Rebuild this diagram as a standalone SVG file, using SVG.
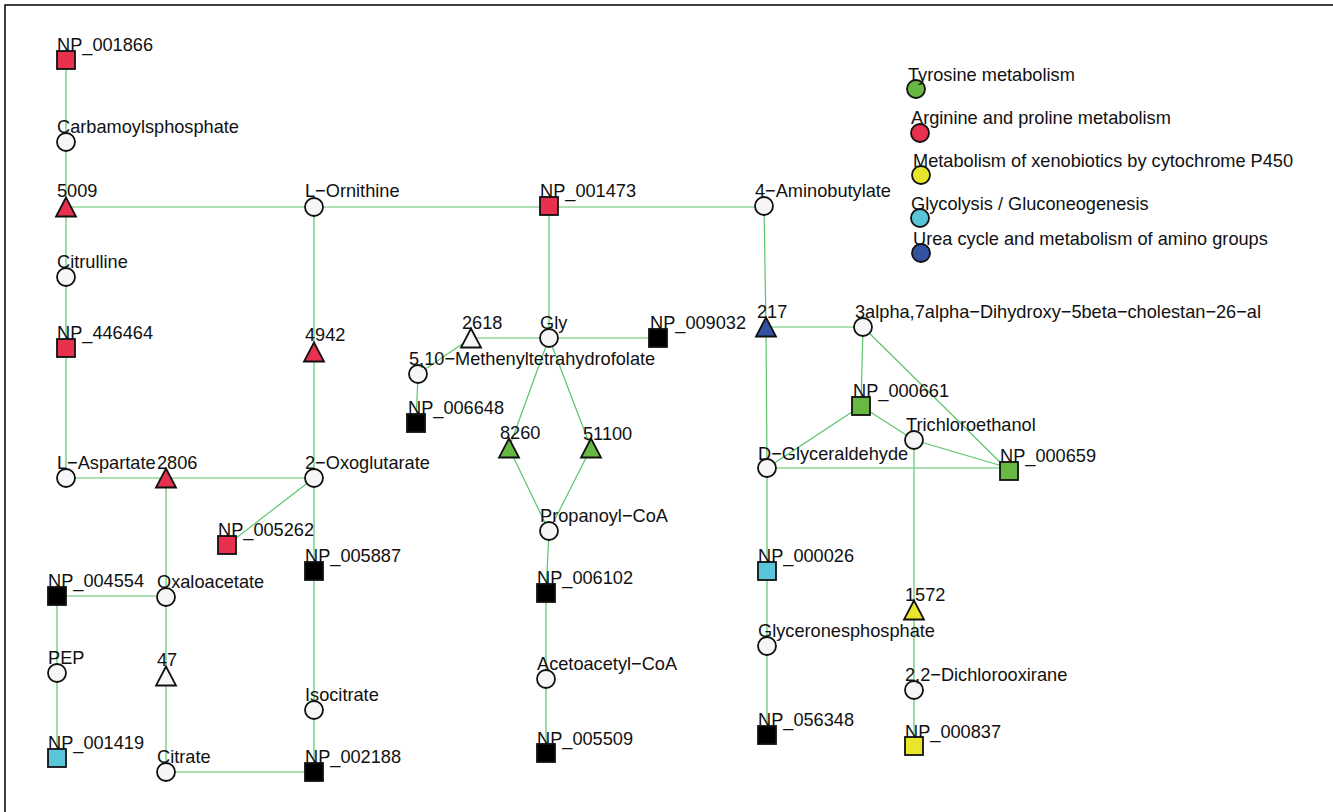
<svg xmlns="http://www.w3.org/2000/svg" xmlns:xlink="http://www.w3.org/1999/xlink" width="1333" height="812" viewBox="0 0 1333 812">
<style>
text{font-family:"Liberation Sans",Arial,sans-serif;font-size:18.2px;fill:#111}
.e{stroke:#5cc46a;stroke-width:1.2;fill:none}
.n{stroke:#111;stroke-width:1.8}
.r{fill:#e8304f}.g{fill:#68b844}.y{fill:#e8e52a}.c{fill:#58c6d8}.b{fill:#3452a0}.k{fill:#000}.w{fill:#f6f6f6}
</style>
<defs>
<rect id="sq" x="-9" y="-9" width="18" height="18"/>
<circle id="ci" r="9"/>
<polygon id="tr" points="-10,9.5 10,9.5 0,-9.5"/>
</defs>
<rect x="5" y="5" width="1400" height="900" fill="#fff" stroke="#000" stroke-width="1.5"/>
<g id="connectors">
<path class="e" d="M66 60V478"/>
<path class="e" d="M66 207H764"/>
<path class="e" d="M314 207V478"/>
<path class="e" d="M66 478H314"/>
<path class="e" d="M166 478V772H314"/>
<path class="e" d="M314 478L227 545"/>
<path class="e" d="M314 478V772"/>
<path class="e" d="M57 596H166"/>
<path class="e" d="M57 596V758"/>
<path class="e" d="M549 206V338"/>
<path class="e" d="M471 338H658"/>
<path class="e" d="M471 338L418 374L416 423"/>
<path class="e" d="M549 338L509 448L549 531L591 448Z"/>
<path class="e" d="M549 531L546 593V753"/>
<path class="e" d="M764 206L766 327H863"/>
<path class="e" d="M766 327L767 468V735"/>
<path class="e" d="M863 327L861 406"/>
<path class="e" d="M863 327L1009 471"/>
<path class="e" d="M861 406L767 468H1009L914 440L861 406"/>
<path class="e" d="M914 440V746"/>
</g>
<g id="n_NP_001866"><use href="#sq" x="66" y="60" class="n r"/><text x="57" y="51">NP_001866</text></g>
<g id="n_Carbamoylsphosphate"><use href="#ci" x="66" y="142" class="n w"/><text x="57" y="133">Carbamoylsphosphate</text></g>
<g id="n_5009"><use href="#tr" x="66" y="207" class="n r"/><text x="57" y="197">5009</text></g>
<g id="n_Citrulline"><use href="#ci" x="66" y="277" class="n w"/><text x="57" y="268">Citrulline</text></g>
<g id="n_NP_446464"><use href="#sq" x="66" y="348" class="n r"/><text x="57" y="339">NP_446464</text></g>
<g id="n_L-Aspartate"><use href="#ci" x="66" y="478" class="n w"/><text x="57" y="469">L−Aspartate</text></g>
<g id="n_2806"><use href="#tr" x="166" y="478" class="n r"/><text x="157" y="469">2806</text></g>
<g id="n_2-Oxoglutarate"><use href="#ci" x="314" y="478" class="n w"/><text x="305" y="469">2−Oxoglutarate</text></g>
<g id="n_L-Ornithine"><use href="#ci" x="314" y="207" class="n w"/><text x="305" y="197">L−Ornithine</text></g>
<g id="n_4942"><use href="#tr" x="314" y="352" class="n r"/><text x="305" y="341">4942</text></g>
<g id="n_NP_001473"><use href="#sq" x="549" y="206" class="n r"/><text x="540" y="197">NP_001473</text></g>
<g id="n_4-Aminobutylate"><use href="#ci" x="764" y="206" class="n w"/><text x="755" y="197">4−Aminobutylate</text></g>
<g id="n_Gly"><use href="#ci" x="549" y="338" class="n w"/><text x="540" y="329">Gly</text></g>
<g id="n_2618"><use href="#tr" x="471" y="338" class="n w"/><text x="462" y="329">2618</text></g>
<g id="n_NP_009032"><use href="#sq" x="658" y="338" class="n k"/><text x="650" y="329">NP_009032</text></g>
<g id="n_Methenyl"><use href="#ci" x="418" y="374" class="n w"/><text x="409" y="365">5,10−Methenyltetrahydrofolate</text></g>
<g id="n_NP_006648"><use href="#sq" x="416" y="423" class="n k"/><text x="408" y="414">NP_006648</text></g>
<g id="n_8260"><use href="#tr" x="509" y="448" class="n g"/><text x="500" y="439">8260</text></g>
<g id="n_51100"><use href="#tr" x="591" y="448" class="n g"/><text x="583" y="440">51100</text></g>
<g id="n_Propanoyl-CoA"><use href="#ci" x="549" y="531" class="n w"/><text x="540" y="522">Propanoyl−CoA</text></g>
<g id="n_NP_006102"><use href="#sq" x="546" y="593" class="n k"/><text x="537" y="584">NP_006102</text></g>
<g id="n_Acetoacetyl-CoA"><use href="#ci" x="546" y="679" class="n w"/><text x="537" y="670">Acetoacetyl−CoA</text></g>
<g id="n_NP_005509"><use href="#sq" x="546" y="753" class="n k"/><text x="537" y="745">NP_005509</text></g>
<g id="n_217"><use href="#tr" x="766" y="327" class="n b"/><text x="757" y="318">217</text></g>
<g id="n_3alpha"><use href="#ci" x="863" y="327" class="n w"/><text x="855" y="318">3alpha,7alpha−Dihydroxy−5beta−cholestan−26−al</text></g>
<g id="n_NP_000661"><use href="#sq" x="861" y="406" class="n g"/><text x="853" y="397">NP_000661</text></g>
<g id="n_Trichloroethanol"><use href="#ci" x="914" y="440" class="n w"/><text x="906" y="431">Trichloroethanol</text></g>
<g id="n_D-Glyceraldehyde"><use href="#ci" x="767" y="468" class="n w"/><text x="758" y="460">D−Glyceraldehyde</text></g>
<g id="n_NP_000659"><use href="#sq" x="1009" y="471" class="n g"/><text x="1000" y="462">NP_000659</text></g>
<g id="n_NP_000026"><use href="#sq" x="767" y="571" class="n c"/><text x="758" y="562">NP_000026</text></g>
<g id="n_Glyceronesphosphate"><use href="#ci" x="767" y="646" class="n w"/><text x="758" y="637">Glyceronesphosphate</text></g>
<g id="n_NP_056348"><use href="#sq" x="767" y="735" class="n k"/><text x="758" y="726">NP_056348</text></g>
<g id="n_1572"><use href="#tr" x="914" y="610" class="n y"/><text x="905" y="601">1572</text></g>
<g id="n_Dichlorooxirane"><use href="#ci" x="914" y="690" class="n w"/><text x="905" y="681">2,2−Dichlorooxirane</text></g>
<g id="n_NP_000837"><use href="#sq" x="914" y="746" class="n y"/><text x="905" y="738">NP_000837</text></g>
<g id="n_NP_005262"><use href="#sq" x="227" y="545" class="n r"/><text x="218" y="536">NP_005262</text></g>
<g id="n_NP_005887"><use href="#sq" x="314" y="571" class="n k"/><text x="305" y="562">NP_005887</text></g>
<g id="n_NP_004554"><use href="#sq" x="57" y="596" class="n k"/><text x="48" y="587">NP_004554</text></g>
<g id="n_Oxaloacetate"><use href="#ci" x="166" y="597" class="n w"/><text x="157" y="588">Oxaloacetate</text></g>
<g id="n_PEP"><use href="#ci" x="57" y="673" class="n w"/><text x="48" y="664">PEP</text></g>
<g id="n_47"><use href="#tr" x="166" y="676" class="n w"/><text x="157" y="666">47</text></g>
<g id="n_NP_001419"><use href="#sq" x="57" y="758" class="n c"/><text x="48" y="749">NP_001419</text></g>
<g id="n_Citrate"><use href="#ci" x="166" y="772" class="n w"/><text x="157" y="763">Citrate</text></g>
<g id="n_Isocitrate"><use href="#ci" x="314" y="710" class="n w"/><text x="305" y="701">Isocitrate</text></g>
<g id="n_NP_002188"><use href="#sq" x="314" y="772" class="n k"/><text x="305" y="763">NP_002188</text></g>
<g id="legend">
<g id="lg_tyr"><use href="#ci" x="916" y="89" class="n g"/><text x="908" y="81">Tyrosine metabolism</text></g>
<g id="lg_arg"><use href="#ci" x="920" y="133" class="n r"/><text x="911" y="124">Arginine and proline metabolism</text></g>
<g id="lg_xen"><use href="#ci" x="921" y="175" class="n y"/><text x="913" y="167">Metabolism of xenobiotics by cytochrome P450</text></g>
<g id="lg_gly"><use href="#ci" x="920" y="218" class="n c"/><text x="911" y="210">Glycolysis / Gluconeogenesis</text></g>
<g id="lg_urea"><use href="#ci" x="921" y="253" class="n b"/><text x="913" y="245">Urea cycle and metabolism of amino groups</text></g>
</g>
</svg>
